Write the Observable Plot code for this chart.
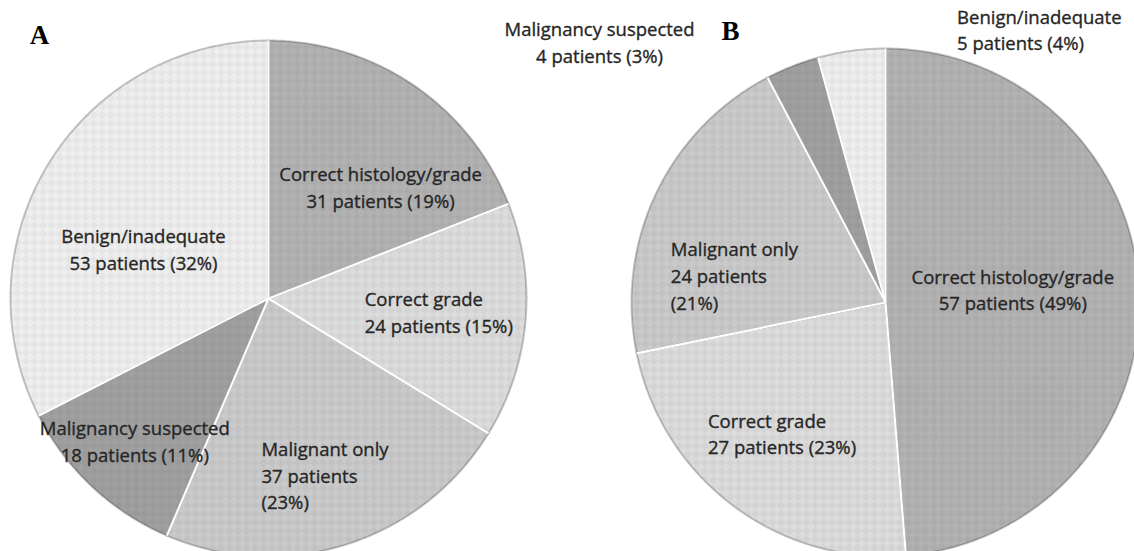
<!DOCTYPE html>
<html><head><meta charset="utf-8">
<script src="https://cdn.jsdelivr.net/npm/d3@7"></script>
<script src="https://cdn.jsdelivr.net/npm/@observablehq/plot@0.6"></script>
<style>body{margin:0;background:#fff;overflow:hidden}</style>
</head><body><div id="chart"></div>
<script>
// ---- data ----
const categories = ["Correct histology/grade", "Correct grade", "Malignant only", "Malignancy suspected", "Benign/inadequate"];
const patientsA = [31, 24, 37, 18, 53];
const percentA = [19, 15, 23, 11, 32];
const patientsB = [57, 27, 24, 4, 5];
const percentB = [49, 23, 21, 3, 4];
const panelLetters = ["A", "B"];

// ---- layout / style ----
const W = 1134, H = 551;
const grays = ["#b2b2b2", "#dcdcdc", "#cacaca", "#a0a0a0", "#eeeeee"];
const pieLayout = [
  {cx: 268, cy: 298, r: 258, letter: [39, 35]},
  {cx: 885, cy: 302, r: 254, letter: [730, 31]}
];
// per slice label: [dx, dy, textAnchor, lines]
const labelLayout = [
  [[25, 15, "middle", 2], [-58, -1, "start", 2], [-54, 28, "start", 3], [-28, 28, "middle", 2], [7, 30, "middle", 2]],
  [[-25, -8, "middle", 2], [-86, 8, "start", 2], [-77, 37, "start", 3], [-230, -120, "middle", 2], [92, -123, "start", 2]]
];

const series = [
  {values: patientsA, pct: percentA},
  {values: patientsB, pct: percentB}
];

const slices = [], seps = [], labels = [];
series.forEach((s, p) => {
  const {cx, cy, r} = pieLayout[p];
  const total = d3.sum(s.values);
  let acc = 0;
  s.values.forEach((v, i) => {
    const a0 = acc / total * 2 * Math.PI;
    acc += v;
    const a1 = acc / total * 2 * Math.PI;
    const key = p + "-" + i;
    const n = Math.max(2, Math.ceil((a1 - a0) / (Math.PI / 360)));
    slices.push({key, cat: categories[i], x: cx, y: cy});
    for (let k = 0; k <= n; k++) {
      const t = a0 + (a1 - a0) * k / n;
      slices.push({key, cat: categories[i], x: cx + r * Math.sin(t), y: cy - r * Math.cos(t)});
    }
    seps.push({x1: cx, y1: cy, x2: cx + r * Math.sin(a0), y2: cy - r * Math.cos(a0)});
    const mid = (a0 + a1) / 2;
    const [dx, dy, anchor, lines] = labelLayout[p][i];
    const txt = lines === 3
      ? `${categories[i]}\n${v} patients\n(${s.pct[i]}%)`
      : `${categories[i]}\n${v} patients (${s.pct[i]}%)`;
    labels.push({x: cx + 0.6 * r * Math.sin(mid) + dx, y: cy - 0.6 * r * Math.cos(mid) + dy, anchor, txt});
  });
});
const letters = panelLetters.map((t, p) => ({t, x: pieLayout[p].letter[0], y: pieLayout[p].letter[1]}));

const chart = Plot.plot({
  width: W, height: H, margin: 0,
  x: {domain: [0, W], range: [0, W], axis: null},
  y: {domain: [0, H], range: [0, H], axis: null},
  color: {domain: categories, range: grays},
  style: {background: "white", overflow: "hidden"},
  marks: [
    Plot.line(slices, {x: "x", y: "y", z: "key", fill: "cat", stroke: "#000", strokeOpacity: 0.22, strokeWidth: 2, curve: "linear-closed", clip: true}),
    Plot.line(slices, {x: "x", y: "y", z: "key", fill: "url(#chk)", stroke: "none", curve: "linear-closed", clip: true}),
    Plot.link(seps, {x1: "x1", y1: "y1", x2: "x2", y2: "y2", stroke: "white", strokeWidth: 2.2, clip: true}),
    ...["start", "middle"].map(a => Plot.text(labels.filter(d => d.anchor === a), {
      x: "x", y: "y", text: "txt", textAnchor: a, lineHeight: 1.45,
      fontFamily: "Open Sans", fontSize: 18.5, fill: "#262626", stroke: "#262626", strokeWidth: 0.35
    })),
    Plot.text(letters, {x: "x", y: "y", text: "t", fontFamily: "Liberation Serif", fontWeight: "bold", fontSize: 27, fill: "#000"})
  ]
});

// checker texture
const ns = "http://www.w3.org/2000/svg";
const defs = document.createElementNS(ns, "defs");
defs.innerHTML = `<pattern id="chk" width="12" height="12" patternUnits="userSpaceOnUse" patternTransform="rotate(45)">
  <rect x="0" y="0" width="6" height="6" fill="#000" fill-opacity="0.04"/>
  <rect x="6" y="6" width="6" height="6" fill="#000" fill-opacity="0.04"/>
</pattern>`;
chart.insertBefore(defs, chart.firstChild);
document.getElementById("chart").appendChild(chart);
</script>
</body></html>
